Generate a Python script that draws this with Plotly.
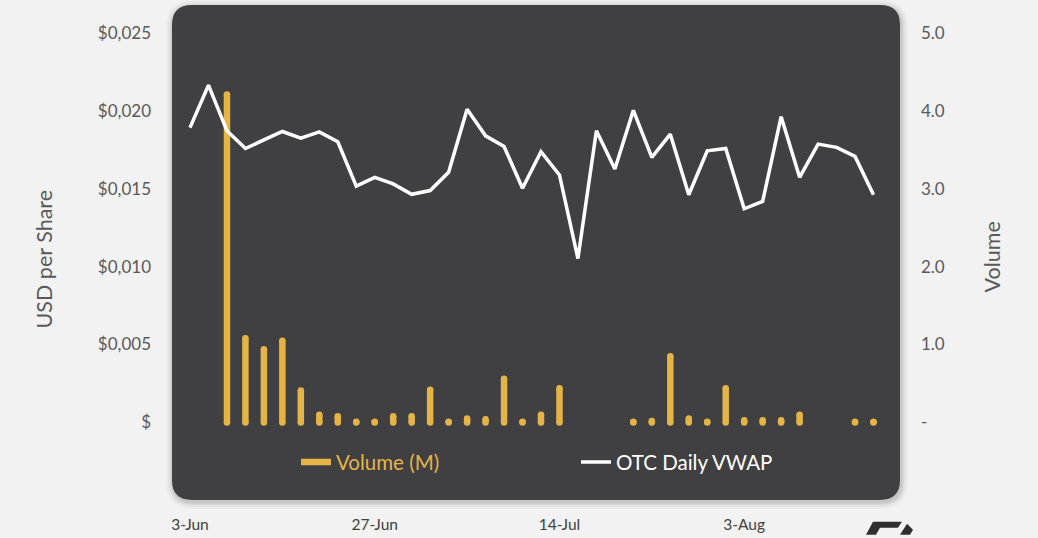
import plotly.graph_objects as go

# Daily series, one entry per trading day (index 0 = 3-Jun)
vwap = [0.01892, 0.02164, 0.01871, 0.01758, 0.01813, 0.01867, 0.01824, 0.01864,
        0.01801, 0.01516, 0.01573, 0.01531, 0.01464, 0.01488, 0.01605, 0.02009,
        0.01839, 0.01771, 0.01503, 0.01737, 0.01588, 0.01052, 0.01871, 0.01626,
        0.02003, 0.01701, 0.01850, 0.01461, 0.01743, 0.01758, 0.01371, 0.01418,
        0.01962, 0.01573, 0.01786, 0.01765, 0.01707, 0.01461]
volume_m = [0, 0, 4.21, 1.08, 0.94, 1.05, 0.41, 0.10, 0.08, 0.01, 0.01, 0.08,
            0.08, 0.42, 0.01, 0.05, 0.04, 0.56, 0.01, 0.10, 0.44, 0, 0, 0,
            0.01, 0.02, 0.85, 0.05, 0.01, 0.44, 0.03, 0.03, 0.03, 0.10, 0, 0,
            0.01, 0.01]
days = list(range(len(vwap)))

date_tick_pos = [0, 10, 20, 30]
date_tick_text = ["3-Jun", "27-Jun", "14-Jul", "3-Aug"]

price_ticks = [0, 0.005, 0.010, 0.015, 0.020, 0.025]
price_tick_text = ["$", "$0,005", "$0,010", "$0,015", "$0,020", "$0,025"]
vol_ticks = [0, 1, 2, 3, 4, 5]
vol_tick_text = ["-", "1.0", "2.0", "3.0", "4.0", "5.0"]

GOLD = "#E4B447"
PANEL = "#404042"
FONT = "Lato"

W, H = 1038, 538
L, R, T, B = 172, 900, 5, 503


def px(x, y):
    return (x - L) / (R - L), (B - y) / (B - T)


def rounded_rect(x0, y0, x1, y1, r):
    def P(x, y):
        a, b = px(x, y)
        return f"{a:.5f},{b:.5f}"
    return (f"M {P(x0 + r, y0)} L {P(x1 - r, y0)} Q {P(x1, y0)} {P(x1, y0 + r)} "
            f"L {P(x1, y1 - r)} Q {P(x1, y1)} {P(x1 - r, y1)} "
            f"L {P(x0 + r, y1)} Q {P(x0, y1)} {P(x0, y1 - r)} "
            f"L {P(x0, y0 + r)} Q {P(x0, y0)} {P(x0 + r, y0)} Z")


# Volume drawn as vertical capsules: a thick segment per day plus round end caps
seg_x, seg_y, cap_x, cap_y = [], [], [], []
for d, v in zip(days, volume_m):
    if v > 0:
        seg_x += [d, d, None]
        seg_y += [0, v, None]
        cap_x += [d, d]
        cap_y += [0, v]

fig = go.Figure()
fig.add_trace(go.Scatter(
    x=seg_x, y=seg_y, mode="lines", yaxis="y",
    line=dict(color=GOLD, width=6.5),
    name=f"<span style='color:{GOLD}'>Volume (M)</span>",
    hoverinfo="skip",
))
fig.add_trace(go.Scatter(
    x=cap_x, y=cap_y, mode="markers", yaxis="y",
    marker=dict(color=GOLD, size=6.5, line=dict(width=0)),
    showlegend=False, hoverinfo="skip",
))
fig.add_trace(go.Scatter(
    x=days, y=vwap, mode="lines", yaxis="y2",
    line=dict(color="white", width=3.5),
    name="OTC Daily VWAP",
))

shapes = []
# soft drop shadow behind the panel
for grow, alpha in [(7, 0.025), (5, 0.035), (3, 0.05), (1.5, 0.07)]:
    shapes.append(dict(type="path", xref="paper", yref="paper", layer="below",
                       path=rounded_rect(L - grow + 1, T - grow + 2, R + grow + 1, B + grow + 2, 20 + grow),
                       fillcolor=f"rgba(0,0,0,{alpha})", line=dict(width=0)))
shapes.append(dict(type="path", xref="paper", yref="paper", layer="below",
                   path=rounded_rect(L, T, R, B, 20),
                   fillcolor=PANEL, line=dict(width=0)))


# partial corner logo
def poly(points):
    s = " L ".join("{:.5f},{:.5f}".format(*px(x, y)) for x, y in points)
    return "M " + s + " Z"


shapes.append(dict(type="path", xref="paper", yref="paper", layer="above",
                   path=poly([(866, 538), (873, 525), (902, 525), (898, 531), (880, 531), (876, 538)]),
                   fillcolor="#2f2f2f", line=dict(width=0)))
shapes.append(dict(type="path", xref="paper", yref="paper", layer="above",
                   path=poly([(900, 538), (907, 527), (913, 533), (910, 538)]),
                   fillcolor="#2f2f2f", line=dict(width=0)))

# x range so that day 0 sits at 190px and day 37 at ~873px
step = (873.5 - 190) / 37
x_lo = (L - 190) / step
x_hi = (R - 190) / step

fig.update_layout(
    width=W, height=H,
    margin=dict(l=L, r=W - R, t=T, b=H - B),
    paper_bgcolor="#f2f2f2",
    plot_bgcolor="rgba(0,0,0,0)",
    font=dict(family=FONT, color="#595959"),
    shapes=shapes,
    showlegend=True,
    legend=dict(orientation="h", x=px(296, 0)[0], xanchor="left", y=px(0, 465)[1], yanchor="middle",
                bgcolor="rgba(0,0,0,0)", font=dict(size=20.5, color="white", family=FONT),
                entrywidth=235, entrywidthmode="pixels", itemwidth=30),
    xaxis=dict(range=[x_lo, x_hi], tickvals=date_tick_pos, ticktext=date_tick_text,
               showgrid=False, zeroline=False, showline=False, ticks="",
               tickfont=dict(size=15.5, color="#404040", family=FONT),
               ticklabelstandoff=13),
    yaxis=dict(side="right", range=[(B - 425) / -78.4, (425 - T) / 78.4],
               tickvals=vol_ticks, ticktext=vol_tick_text,
               showgrid=False, zeroline=False, showline=False, ticks="",
               tickfont=dict(size=17, color="#595959", family=FONT),
               ticklabelstandoff=20),
    yaxis2=dict(overlaying="y", side="left",
                range=[(B - 425) / -78.4 * 0.005, (425 - T) / 78.4 * 0.005],
                tickvals=price_ticks, ticktext=price_tick_text,
                showgrid=False, zeroline=False, showline=False, ticks="",
                tickfont=dict(size=17, color="#595959", family=FONT),
                ticklabelstandoff=20),
    annotations=[
        dict(text="USD per Share", textangle=-90, xref="paper", yref="paper",
             x=px(29, 0)[0], y=px(0, 261)[1], showarrow=False,
             font=dict(size=21.5, color="#595959", family=FONT)),
        dict(text="Volume", textangle=-90, xref="paper", yref="paper",
             x=px(1007, 0)[0], y=px(0, 259)[1], showarrow=False,
             font=dict(size=21.5, color="#595959", family=FONT)),
    ],
)

fig.write_html("out.html")
